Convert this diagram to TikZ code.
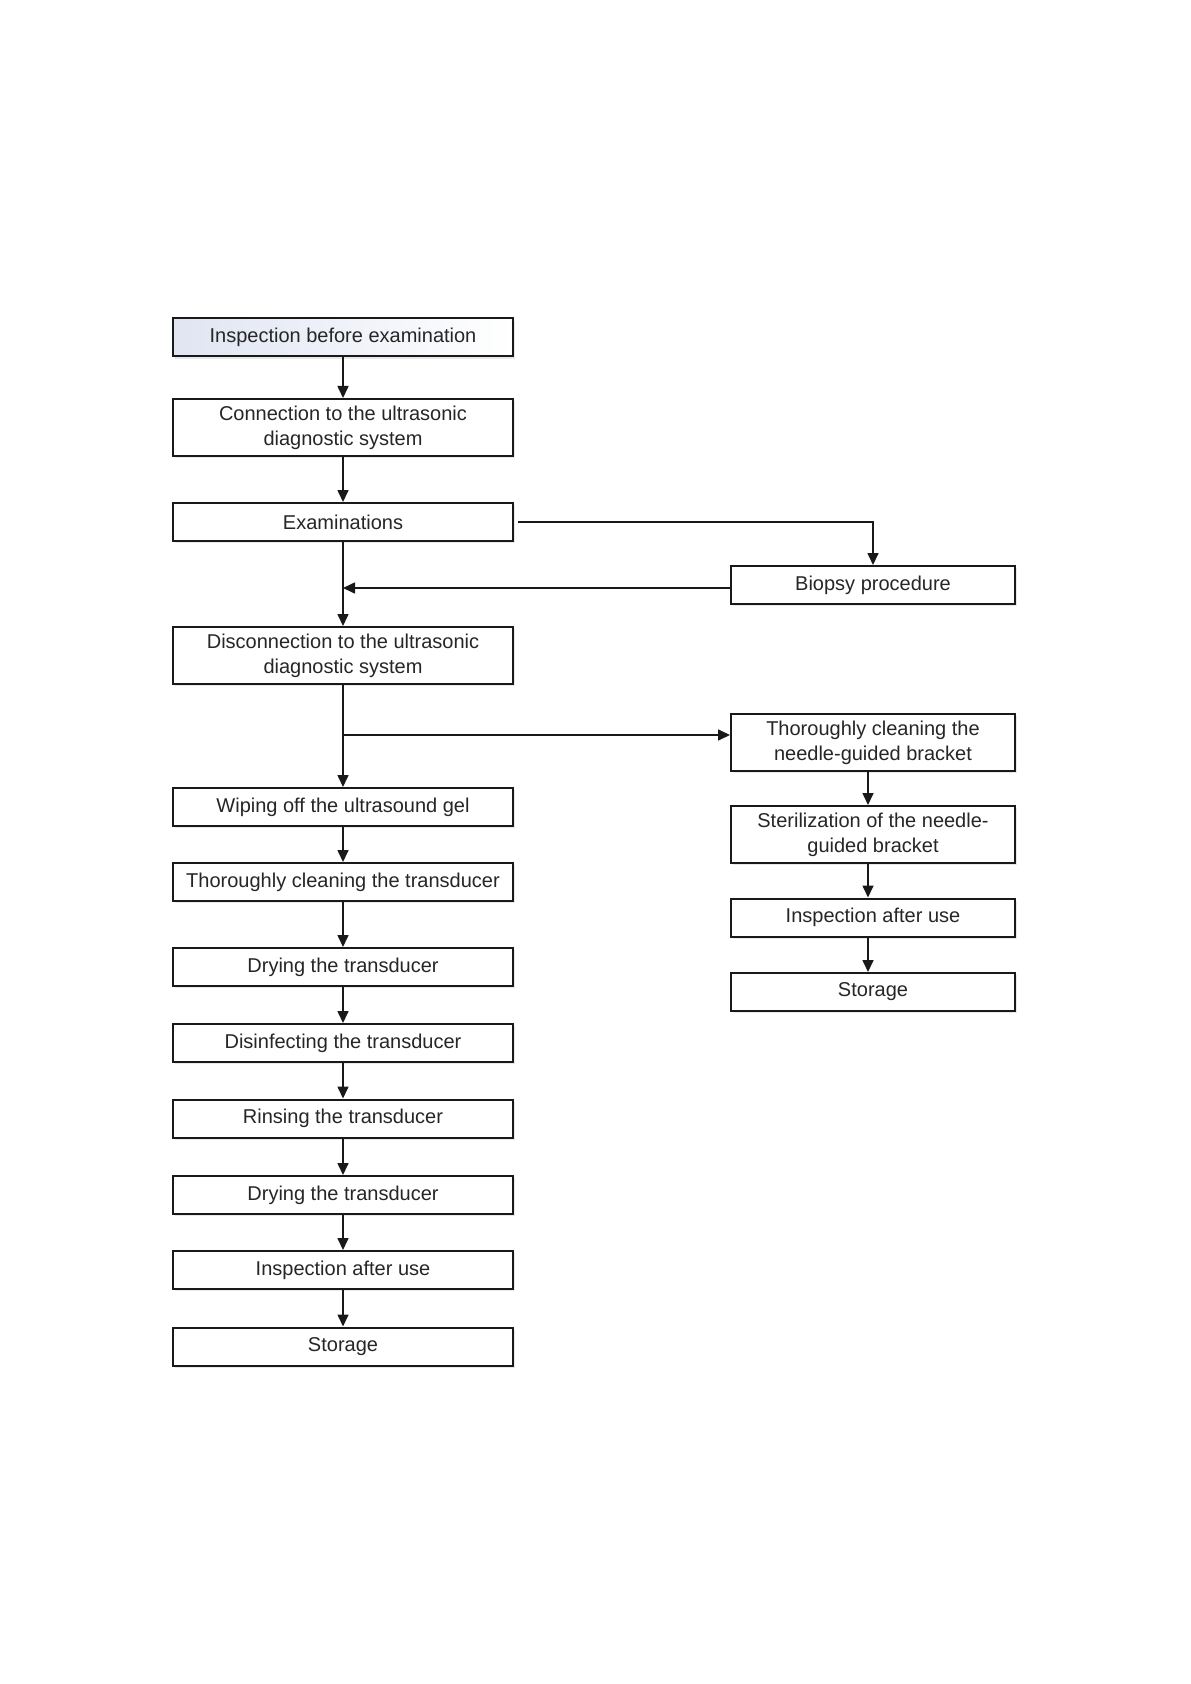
\documentclass[tikz,border=0pt]{standalone}
\usepackage{fontspec}
\setmainfont{Liberation Sans}
\usetikzlibrary{arrows.meta,shadows}
\definecolor{gradl}{RGB}{224,229,242}
\begin{document}
\begin{tikzpicture}[x=0.5pt,y=-0.5pt,
 box/.style={draw=black!90, line width=1pt, fill=white, align=center,
   font=\fontsize{10}{12.4}\selectfont, text=black!85, inner sep=0pt,
   drop shadow={opacity=0.18,shadow xshift=1.2pt,shadow yshift=-1.2pt}},
 lbox/.style={box, minimum width=170pt},
 rbox/.style={box, minimum width=142pt},
 one/.style={minimum height=19pt},
 two/.style={minimum height=28.5pt},
 arr/.style={line width=0.8pt, draw=black!90, -{Triangle[width=5.5pt,length=6pt]}}]
\useasboundingbox (0,0) rectangle (1190,1684);
% left column
\node[lbox,one,left color=gradl, right color=white] (n1) at (343,337.5) {Inspection before examination};
\node[lbox,two] (n2) at (343,427.5) {Connection to the ultrasonic\\diagnostic system};
\node[lbox,one] (n3) at (343,522) {Examinations};
\node[lbox,two] (n5) at (343,655.5) {Disconnection to the ultrasonic\\diagnostic system};
\node[lbox,one] (n7) at (343,807) {Wiping off the ultrasound gel};
\node[lbox,one] (n8) at (343,882) {Thoroughly cleaning the transducer};
\node[lbox,one] (n9) at (343,967) {Drying the transducer};
\node[lbox,one] (n10) at (343,1043) {Disinfecting the transducer};
\node[lbox,one] (n11) at (343,1118.5) {Rinsing the transducer};
\node[lbox,one] (n12) at (343,1195) {Drying the transducer};
\node[lbox,one] (n13) at (343,1270) {Inspection after use};
\node[lbox,one] (n14) at (343,1346.5) {Storage};
% right column
\node[rbox,one] (bio) at (873,585) {Biopsy procedure};
\node[rbox,two] (needle) at (873,742.5) {Thoroughly cleaning the\\needle-guided bracket};
\node[rbox,two] (ster) at (873,834.5) {Sterilization of the needle-\\guided bracket};
\node[rbox,one] (ir) at (873,917.5) {Inspection after use};
\node[rbox,one] (sr) at (873,992) {Storage};
% connectors
\draw[arr] (n1) -- (n2);
\draw[arr] (n2) -- (n3);
\draw[arr] ([xshift=2pt]n3.east) -| (bio.north);
\coordinate (b) at ([yshift=-1.5pt]bio.west);
\draw[arr] (b) -- (b -| n3.south);
\draw[arr] (n3) -- (n5);
\coordinate (j) at (343,735);
\draw[arr] (j) -- (j -| needle.west);
\draw[arr] (n5) -- (n7);
\draw[arr] (n7) -- (n8);
\draw[arr] (n8) -- (n9);
\draw[arr] (n9) -- (n10);
\draw[arr] (n10) -- (n11);
\draw[arr] (n11) -- (n12);
\draw[arr] (n12) -- (n13);
\draw[arr] (n13) -- (n14);
\draw[arr] ([xshift=-2.5pt]needle.south) -- ([xshift=-2.5pt]ster.north);
\draw[arr] ([xshift=-2.5pt]ster.south) -- ([xshift=-2.5pt]ir.north);
\draw[arr] ([xshift=-2.5pt]ir.south) -- ([xshift=-2.5pt]sr.north);
\end{tikzpicture}
\end{document}
